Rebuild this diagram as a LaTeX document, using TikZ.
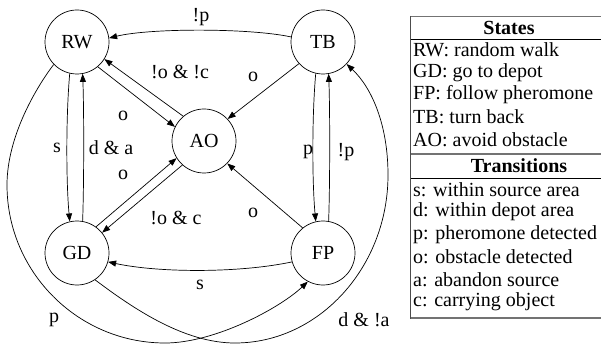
\documentclass[tikz,border=0pt]{standalone}
\usepackage{fontspec}
\setmainfont{Liberation Serif}
\usetikzlibrary{arrows.meta}
\tikzset{
  st/.style={draw, circle, minimum size=64pt, inner sep=0pt, line width=0.7pt, font=\fontsize{20}{23}\selectfont},
  edge/.style={draw, line width=0.7pt, -{Triangle[length=8pt,width=6pt]}},
  lbl/.style={inner sep=0pt, font=\fontsize{20}{23}\selectfont},
  tb/.style={inner sep=0pt, anchor=west, font=\fontsize{20}{23}\selectfont},
  tbh/.style={inner sep=0pt, font=\fontsize{20}{23}\selectfont\bfseries},
  grayline/.style={draw=black!55, line width=1.2pt},
  darkline/.style={draw=black, line width=0.9pt}
}
\begin{document}
\begin{tikzpicture}[x=1pt, y=-1pt]
\useasboundingbox (0,0) rectangle (601,344);
% states
\node[st] (RW) at (77,42) {RW};
\node[st] (TB) at (323,42) {TB};
\node[st] (AO) at (204,141) {AO};
\node[st] (GD) at (77,253) {GD};
\node[st] (FP) at (323,253) {FP};
% waypoints
\coordinate (wL) at (7,185);
\coordinate (wLB) at (165,343);
\coordinate (wRB) at (235,343);
\coordinate (wR) at (388,175);
% edges
\draw[edge] (TB.171) .. controls (250,28) and (150,28) .. (RW.7);
\draw[edge] (RW.310) -- (AO.154);
\draw[edge] (AO.130) -- (RW.328);
\draw[edge] (TB.222) -- (AO.43);
\draw[edge] (FP.129) -- (AO.316);
\draw[edge] (GD.54) -- (AO.212);
\draw[edge] (AO.228) -- (GD.39);
\draw[edge] (FP.196) .. controls (240,273) and (160,273) .. (GD.344);
\draw[edge] (RW.257) .. controls (66,115) and (66,180) .. (GD.103);
\draw[edge] (GD.80) .. controls (84,185) and (84,110) .. (RW.280);
\draw[edge] (TB.257) .. controls (312,115) and (312,180) .. (FP.103);
\draw[edge] (FP.80) .. controls (330,185) and (330,110) .. (TB.280);
\draw[edge] (RW.224) .. controls (38,85) and (7,135) .. (wL)
  .. controls (7,272) and (78,343) .. (wLB)
  .. controls (215,343) and (280,308) .. (FP.242);
\draw[edge] (GD.304) .. controls (135,310) and (185,343) .. (wRB)
  .. controls (319,343) and (388,267) .. (wR)
  .. controls (388,125) and (372,88) .. (TB.317);
% labels
\node[lbl] (l1) at (201,17) {!p};
\node[lbl] (l2) at (180,72) {!o \& !c};
\node[lbl] (l3) at (123,116) {o};
\node[lbl] (l4) at (253,77) {o};
\node[lbl] (l5) at (57,148) {s};
\node[lbl] (l6) at (111,148) {d \& a};
\node[lbl] (l7) at (123,175) {o};
\node[lbl] (l8) at (176,218) {!o \& c};
\node[lbl] (l9) at (253,213) {o};
\node[lbl] (l10) at (308,152) {p};
\node[lbl] (l11) at (346,152) {!p};
\node[lbl] (l12) at (200,285) {s};
\node[lbl] (l13) at (54,320) {p};
\node[lbl] (l14) at (364,320) {d \& !a};
% table
\draw[grayline] (410,16.5) -- (602,16.5);
\draw[darkline] (410,39) -- (602,39);
\draw[grayline] (410,154) -- (602,154);
\draw[darkline] (410,178) -- (602,178);
\draw[grayline] (410,318) -- (602,318);
\draw[draw=black!70, line width=0.8pt] (410,16) -- (410,318.5);
\node[tbh] (hS) at (509,28) {States};
\node[tbh] (hT) at (519,166) {Transitions};
\node[tb] (r1) at (413,50) {RW: random walk};
\node[tb] (r2) at (413,72.5) {GD: go to depot};
\node[tb] (r3) at (413,95) {FP: follow pheromone};
\node[tb] (r4) at (413,117) {TB: turn back};
\node[tb] (r5) at (413,139.5) {AO: avoid obstacle};
\node[tb] (t1) at (413,189.5) {s: within source area};
\node[tb] (t2) at (413,212) {d: within depot area};
\node[tb] (t3) at (413,234.5) {p: pheromone detected};
\node[tb] (t4) at (413,257) {o: obstacle detected};
\node[tb] (t5) at (413,279.5) {a: abandon source};
\node[tb] (t6) at (413,302) {c: carrying object};
\end{tikzpicture}
\end{document}
